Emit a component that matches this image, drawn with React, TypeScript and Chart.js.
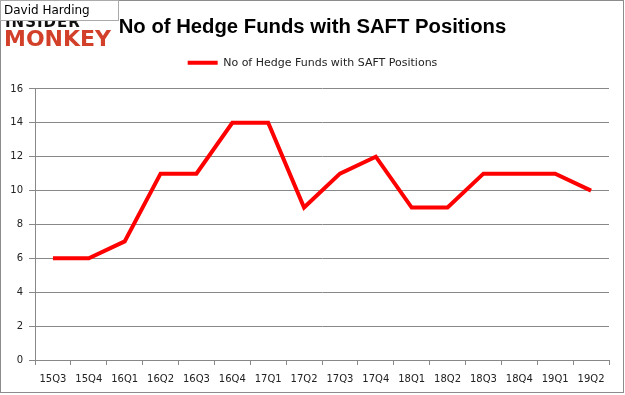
import React, { useEffect, useRef } from "react";
import { Chart, registerables } from "chart.js";

Chart.register(...registerables);

const categories = ["15Q3", "15Q4", "16Q1", "16Q2", "16Q3", "16Q4", "17Q1", "17Q2", "17Q3", "17Q4", "18Q1", "18Q2", "18Q3", "18Q4", "19Q1", "19Q2"];
const hedgeFunds = [6, 6, 7, 11, 11, 14, 14, 9, 11, 12, 9, 9, 11, 11, 11, 10];
const seriesName = "No of Hedge Funds with SAFT Positions";
const titleText = "No of Hedge Funds with SAFT Positions";
const yTicks = [0, 2, 4, 6, 8, 10, 12, 14, 16];

export default function App() {
  const ref = useRef<HTMLCanvasElement | null>(null);

  useEffect(() => {
    document.body.style.margin = "0";
    const ctx = ref.current!.getContext("2d")!;
    const chart = new Chart(ctx, {
      type: "line",
      data: {
        labels: categories,
        datasets: [
          {
            label: seriesName,
            data: hedgeFunds,
            borderColor: "#ff0000",
            backgroundColor: "#ff0000",
            borderWidth: 4,
            pointRadius: 0,
            tension: 0,
            yAxisID: "y",
          },
        ],
      },
      options: {
        responsive: false,
        animation: false,
        layout: { padding: 0 },
        plugins: {
          title: {
            display: true,
            text: titleText,
            color: "#000",
            font: { family: "'Liberation Sans', Arial, sans-serif", size: 20.3, weight: "bold" },
            padding: { top: 15, bottom: 0 },
          },
          subtitle: {
            display: true,
            text: "",
            weight: 500,
            font: { size: 10.6, lineHeight: 1 },
            padding: 0,
          },
          legend: {
            display: true,
            labels: {
              usePointStyle: true,
              pointStyle: "line",
              pointStyleWidth: 30,
              boxWidth: 30,
              padding: 18,
              color: "#222",
              font: { family: "'DejaVu Sans', Verdana, sans-serif", size: 11 },
            },
          },
          tooltip: { enabled: false },
        },
        scales: {
          x: {
            offset: true,
            grid: {
              offset: true,
              drawOnChartArea: false,
              drawTicks: true,
              tickLength: 5,
              color: "#888",
            },
            border: { color: "#888" },
            ticks: {
              color: "#222",
              padding: 8,
              maxRotation: 0,
              autoSkip: false,
              font: { family: "'DejaVu Sans', Verdana, sans-serif", size: 10 },
            },
            afterFit: (s: any) => {
              s.height = 35;
            },
          },
          y: {
            min: 0,
            max: 16,
            afterBuildTicks: (s: any) => {
              s.ticks = yTicks.map((v) => ({ value: v }));
            },
            grid: { color: "#888", tickLength: 6 },
            border: { color: "#888" },
            ticks: {
              color: "#222",
              padding: 6,
              font: { family: "'DejaVu Sans', Verdana, sans-serif", size: 10 },
            },
            afterFit: (s: any) => {
              s.width = 35;
            },
          },
          yRight: {
            position: "right",
            display: true,
            grid: { display: false },
            border: { display: false },
            ticks: { display: false },
            afterFit: (s: any) => {
              s.width = 16;
            },
          },
        },
      },
    });
    return () => chart.destroy();
  }, []);

  return (
    <div style={{ position: "absolute", left: 0, top: 0, width: 625, height: 395, background: "#fff" }}>
      <canvas ref={ref} width={625} height={395} style={{ position: "absolute", left: 0, top: 0 }} />
      <div
        style={{
          position: "absolute",
          left: 0,
          top: 0,
          width: 622,
          height: 391,
          border: "1px solid #8c8c8c",
          pointerEvents: "none",
        }}
      />
      <div
        style={{
          position: "absolute",
          left: 5,
          top: 14,
          fontFamily: "'DejaVu Sans', sans-serif",
          fontWeight: "bold",
          fontSize: 15,
          letterSpacing: 1,
          color: "#111",
          lineHeight: "16px",
        }}
      >
        INSIDER
      </div>
      <div
        style={{
          position: "absolute",
          left: 4,
          top: 27,
          fontFamily: "'DejaVu Sans', sans-serif",
          fontWeight: "bold",
          fontSize: 22,
          letterSpacing: 0,
          color: "#d2402a",
          lineHeight: "24px",
        }}
      >
        MONKEY
      </div>
      <div
        style={{
          position: "absolute",
          left: 0,
          top: 0,
          width: 119,
          height: 21,
          background: "#fff",
          border: "1px solid #aaa",
          fontFamily: "'DejaVu Sans', Verdana, sans-serif",
          fontSize: 12,
          lineHeight: "19px",
          paddingLeft: 3,
          boxSizing: "border-box",
          color: "#000",
        }}
      >
        David Harding
      </div>
    </div>
  );
}
